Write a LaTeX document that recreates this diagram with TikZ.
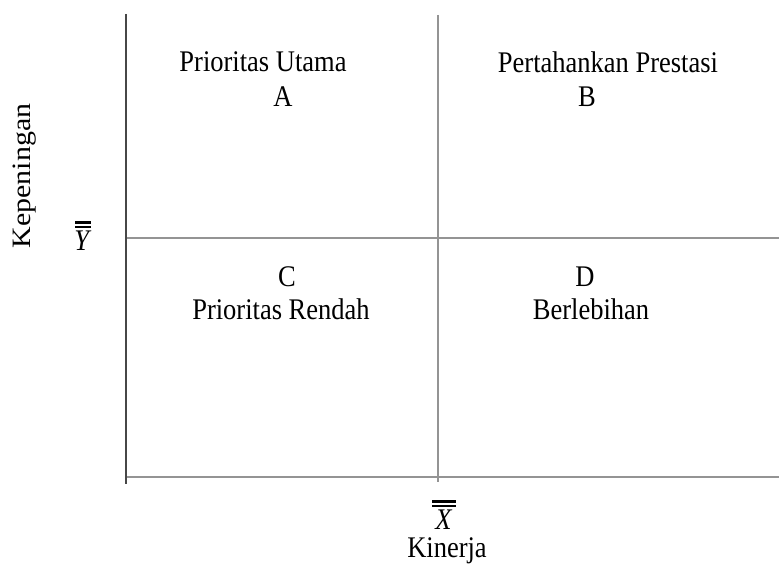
\documentclass[tikz,border=0pt]{standalone}
\usepackage{fontspec}
\setmainfont{Liberation Serif}
\newcommand{\dblbar}[2]{\vbox{\hrule height 2.4pt width #1\kern1.6pt\hrule height 2.4pt width #1\kern2.5pt\hbox to #1{\hss\textit{#2}\hss}}}
\begin{document}
\begin{tikzpicture}[x=1pt,y=-1pt,
  lbl/.style={inner sep=0pt,font=\fontsize{26.5}{30}\selectfont},
  axisdark/.style={draw=black!72,line width=2pt},
  axislight/.style={draw=black!42,line width=2pt}]
\useasboundingbox (0,0) rectangle (779,569);
% line end points
\coordinate (lt) at (126,14);
\coordinate (lb) at (126,484);
\coordinate (bl) at (127,477);
\coordinate (br) at (779,477);
\coordinate (ml) at (127,238);
\coordinate (mr) at (779,238);
\coordinate (vt) at (438,15);
\coordinate (vb) at (438,482);
\draw[axislight] (ml) -- (mr);
\draw[axislight] (bl) -- (br);
\draw[axislight] (vt) -- (vb);
\draw[axisdark] (lt) -- (lb);
% quadrant labels
\node[lbl] (pu) at (263,62) {\scalebox{1}[1.13]{Prioritas Utama}};
\node[lbl] (a) at (283,97) {\scalebox{1}[1.13]{A}};
\node[lbl] (pp) at (608,62) {\scalebox{1}[1.13]{Pertahankan Prestasi}};
\node[lbl] (b) at (587,97) {\scalebox{1}[1.13]{B}};
\node[lbl] (c) at (287,277) {\scalebox{1}[1.13]{C}};
\node[lbl] (pr) at (281,309) {\scalebox{1}[1.13]{Prioritas Rendah}};
\node[lbl] (d) at (585,277) {\scalebox{1}[1.13]{D}};
\node[lbl] (bh) at (591,309) {\scalebox{1}[1.13]{Berlebihan}};
% axis labels
\node[lbl,rotate=90] (kep) at (25,176) {\scalebox{1.13}[1]{Kepeningan}};
\node[lbl] (ybar) at (83,236) {\scalebox{1}[1.13]{\dblbar{16pt}{Y}}};
\node[lbl] (xbar) at (444,515) {\scalebox{1}[1.13]{\dblbar{24pt}{X}}};
\node[lbl] (kin) at (447,551) {\scalebox{1}[1.13]{Kinerja}};
\end{tikzpicture}
\end{document}
